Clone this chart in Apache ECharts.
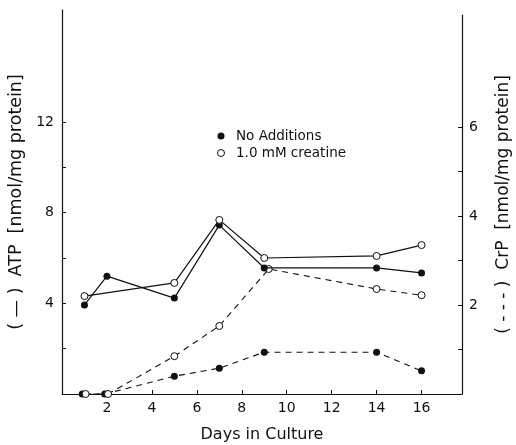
<!DOCTYPE html>
<html>
<head>
<meta charset="utf-8">
<script src="https://cdn.jsdelivr.net/npm/echarts@6/dist/echarts.min.js"></script>
<style>html,body{margin:0;padding:0;background:#fff;}#c{width:516px;height:445px;}</style>
</head>
<body>
<div id="c"></div>
<script>
// Data (days, value)
var atpNoAdd = [[1,3.93],[2,5.2],[5,4.23],[7,7.45],[9,5.56],[14,5.56],[16,5.34]];
var atpCreatine = [[1,4.32],[5,4.9],[7,7.68],[9,6.0],[14,6.09],[16,6.57]];
var crpNoAdd = [[0.9,0],[1.9,0],[5,0.4],[7,0.58],[9,0.94],[14,0.94],[16,0.52]];
var crpCreatine = [[1.05,0],[2.05,0],[5,0.85],[7,1.53],[9.2,2.81],[14,2.36],[16,2.22]];

var xTicks = [2,4,6,8,10,12,14,16];
var leftTicks = [2,4,6,8,10,12];
var leftLabels = [4,8,12];
var rightTicks = [1,2,3,4,5,6];
var rightLabels = [2,4,6];

var FONT = 'DejaVu Sans';
var INK = '#111';

var chart = echarts.init(document.getElementById('c'), null, {renderer:'canvas'});
chart.setOption({
  animation: false,
  backgroundColor: '#fff',
  textStyle: {fontFamily: FONT, color: INK},
  grid: [
    {left: 62, right: 54, top: 10, bottom: 51, containLabel: false, outerBoundsMode: 'none'},
    {left: 62, right: 54, top: 15, bottom: 51, containLabel: false, outerBoundsMode: 'none'}
  ],
  legend: {
    orient: 'vertical',
    left: 212, top: 124,
    itemWidth: 20, itemHeight: 7, itemGap: 3,
    textStyle: {fontFamily: FONT, fontSize: 13.5, color: INK},
    data: [
      {name: 'No Additions', icon: 'circle', itemStyle: {color: INK, borderWidth: 0}},
      {name: '1.0 mM creatine', icon: 'circle', itemStyle: {color: '#fff', borderColor: INK, borderWidth: 1}}
    ]
  },
  xAxis: [
    {
      type: 'value', gridIndex: 0, min: 0, max: 17.8,
      name: 'Days in Culture', nameLocation: 'middle', nameGap: 33,
      nameTextStyle: {fontFamily: FONT, fontSize: 16, color: INK},
      axisLine: {onZero: false, lineStyle: {color: INK, width: 1.2}},
      axisTick: {show: true, inside: true, length: 4, customValues: xTicks, lineStyle: {color: INK}},
      axisLabel: {customValues: xTicks, fontSize: 14, color: INK, margin: 7, fontFamily: FONT},
      splitLine: {show: false}
    },
    {
      type: 'value', gridIndex: 1, min: 0, max: 17.8, show: false
    }
  ],
  yAxis: [
    {
      type: 'value', gridIndex: 0, min: 0, max: 16.94, position: 'left',
      name: '( — )  ATP  [nmol/mg protein]', nameLocation: 'middle', nameGap: 30, nameRotate: 90,
      nameTextStyle: {fontFamily: FONT, fontSize: 17.5, color: INK},
      axisLine: {show: true, onZero: false, lineStyle: {color: INK, width: 1.2}},
      axisTick: {show: true, inside: true, length: 4, customValues: leftTicks, lineStyle: {color: INK}},
      axisLabel: {customValues: leftLabels, fontSize: 14, color: INK, margin: 8, fontFamily: FONT},
      splitLine: {show: false}
    },
    {
      type: 'value', gridIndex: 1, min: 0, max: 8.52, position: 'right',
      name: '( - - - )  CrP  [nmol/mg protein]', nameLocation: 'middle', nameGap: 33, nameRotate: 90,
      nameTextStyle: {fontFamily: FONT, fontSize: 17, color: INK},
      axisLine: {show: true, onZero: false, lineStyle: {color: INK, width: 1.2}},
      axisTick: {show: true, inside: true, length: 4, customValues: rightTicks, lineStyle: {color: INK}},
      axisLabel: {customValues: rightLabels, fontSize: 14, color: INK, margin: 7, fontFamily: FONT},
      splitLine: {show: false}
    }
  ],
  series: [
    {
      name: 'No Additions', type: 'line', xAxisIndex: 0, yAxisIndex: 0, data: atpNoAdd,
      symbol: 'circle', symbolSize: 7, z: 3,
      lineStyle: {color: INK, width: 1.2}, itemStyle: {color: INK, borderWidth: 0}
    },
    {
      name: '1.0 mM creatine', type: 'line', xAxisIndex: 0, yAxisIndex: 0, data: atpCreatine,
      symbol: 'circle', symbolSize: 7, z: 3,
      lineStyle: {color: INK, width: 1.2}, itemStyle: {color: '#fff', borderColor: INK, borderWidth: 1}
    },
    {
      name: 'No Additions', type: 'line', xAxisIndex: 1, yAxisIndex: 1, data: crpNoAdd,
      symbol: 'circle', symbolSize: 7, z: 2,
      lineStyle: {color: INK, width: 1.1, type: [6, 5]}, itemStyle: {color: INK, borderWidth: 0}
    },
    {
      name: '1.0 mM creatine', type: 'line', xAxisIndex: 1, yAxisIndex: 1, data: crpCreatine,
      symbol: 'circle', symbolSize: 7, z: 2,
      lineStyle: {color: INK, width: 1.1, type: [6, 5]}, itemStyle: {color: '#fff', borderColor: INK, borderWidth: 1}
    }
  ]
});
</script>
</body>
</html>
